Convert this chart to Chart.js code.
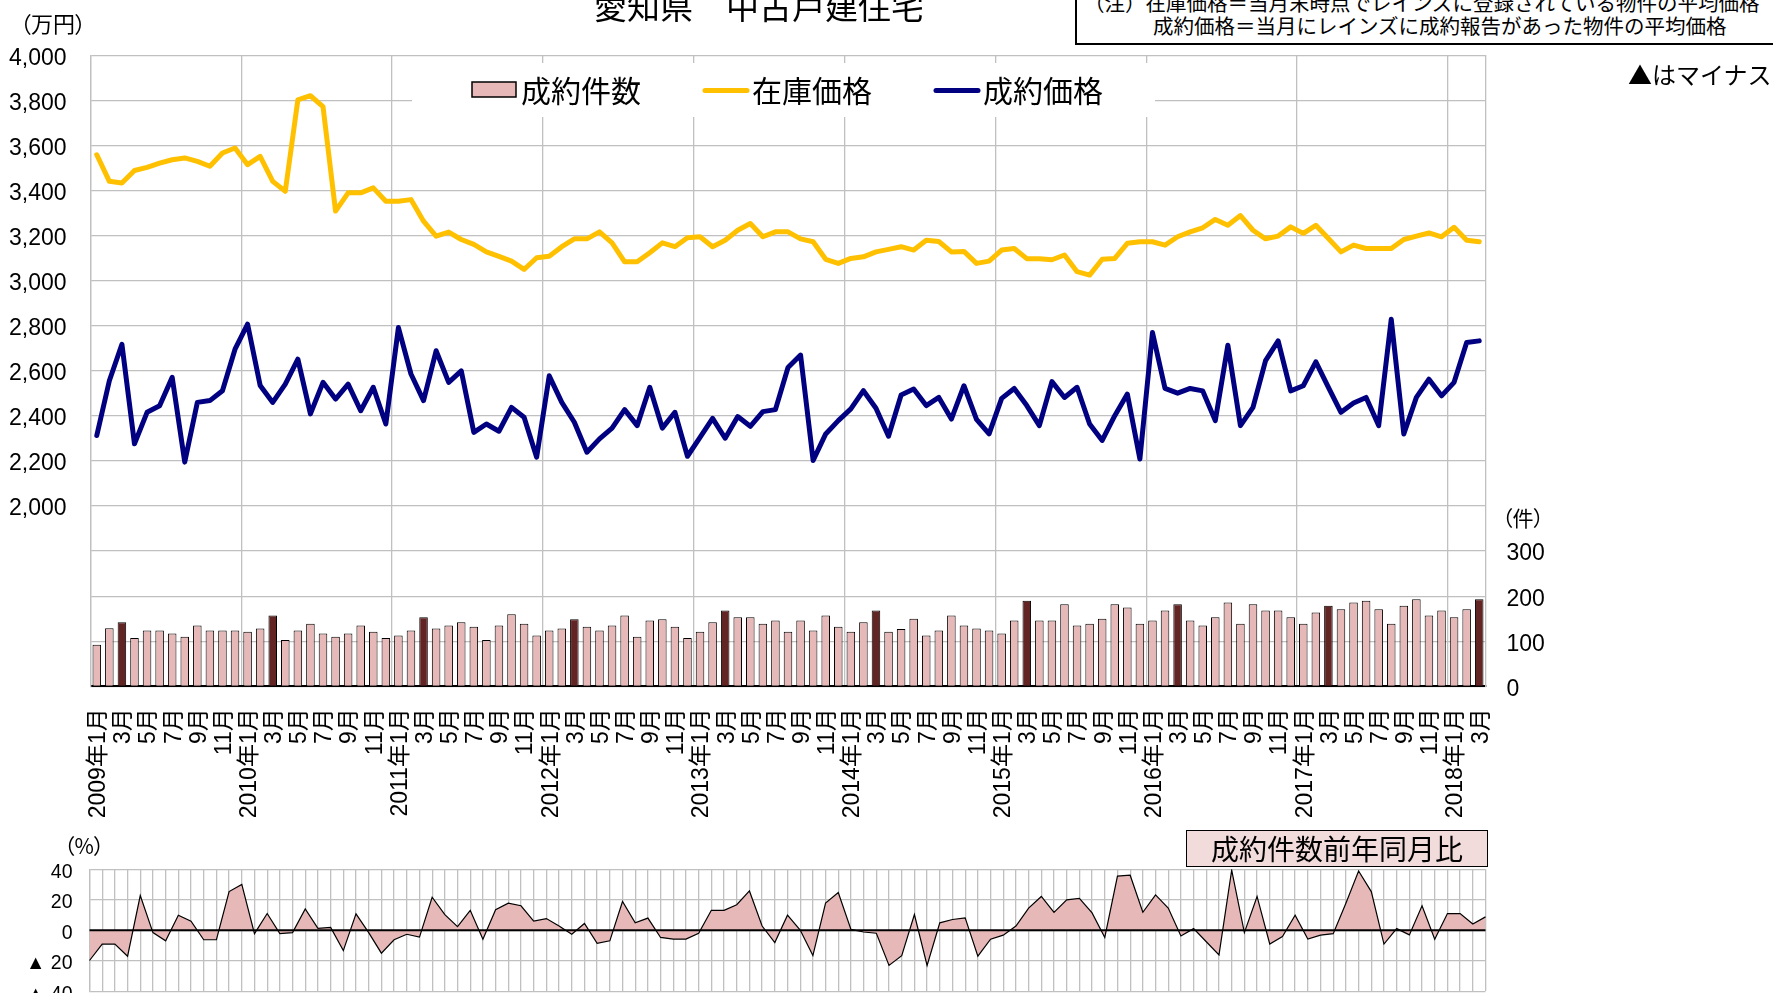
<!DOCTYPE html>
<html lang="ja">
<head>
<meta charset="utf-8">
<script src="https://cdn.jsdelivr.net/npm/chart.js@4.4.1/dist/chart.umd.min.js"></script>
<style>
  html, body { margin: 0; padding: 0; background: #fff; overflow: hidden; }
  body { width: 1773px; height: 993px; position: relative; font-family: "Noto Sans CJK JP", sans-serif; color: #000; }
  canvas { position: absolute; left: 0; }
  .txt { position: absolute; white-space: nowrap; line-height: 1; }
  .palt { font-feature-settings: "palt"; }
  #note { position: absolute; left: 1075px; top: -40px; width: 760px; height: 85px; border: 2px solid #000; box-sizing: border-box; background: #fff; }
  #yoyTitle { position: absolute; left: 1186px; top: 830px; width: 302px; height: 37px; box-sizing: border-box;
              border: 1.5px solid #000; background: #F2DCDB; font-size: 28px; line-height: 34px; text-align: center; }
</style>
</head>
<body>
<canvas id="topChart" width="1773" height="840" style="top:0"></canvas>
<canvas id="botChart" width="1773" height="220" style="top:800px"></canvas>

<div class="txt" style="left:594px; top:-11px; font-size:33px;">愛知県　中古戸建住宅</div>
<div class="txt palt" style="left:20px; top:11px; font-size:22px;">（万円）</div>
<div id="note"></div>
<div class="txt" style="left:1084px; top:-8px; font-size:20.5px;">（注）在庫価格＝当月末時点でレインズに登録されている物件の平均価格</div>
<div class="txt" style="left:1153px; top:15px; font-size:20.5px;">成約価格＝当月にレインズに成約報告があった物件の平均価格</div>
<div class="txt" style="left:1628px; top:62px; font-size:24px;">▲はマイナス</div>
<div class="txt palt" style="left:1502px; top:507px; font-size:21px;">（件）</div>
<div class="txt palt" style="left:64px; top:835px; font-size:21px;">（%）</div>
<div id="yoyTitle">成約件数前年同月比</div>

<script>
// 2009年1月 ～ 2018年3月
const years = [2009, 2010, 2011, 2012, 2013, 2014, 2015, 2016, 2017, 2018];
const lastMonthOfLastYear = 3;

// 成約件数（件）
const contracts = [
  92, 129, 142, 107, 124, 124, 117, 110, 135, 124, 124, 124,
  121, 128, 157, 103, 124, 139, 117, 110, 117, 135, 121, 107,
  113, 124, 153, 128, 135, 142, 132, 103, 135, 160, 139, 113,
  124, 128, 149, 132, 124, 135, 157, 110, 146, 149, 132, 107,
  121, 142, 168, 153, 153, 139, 146, 121, 146, 124, 157, 132,
  121, 142, 168, 121, 127, 150, 113, 124, 157, 135, 128, 124,
  117, 146, 190, 146, 146, 182, 135, 139, 150, 182, 175, 139,
  146, 168, 182, 146, 135, 153, 186, 139, 182, 168, 168, 153,
  139, 164, 179, 171, 186, 190, 171, 139, 179, 193, 157, 168,
  153, 171, 193
];

// 在庫価格（万円）
const stockPrice = [
  3559, 3441, 3434, 3489, 3503, 3522, 3537, 3545, 3530, 3508, 3567, 3589,
  3515, 3552, 3441, 3397, 3803, 3821, 3773, 3309, 3390, 3390, 3412, 3353,
  3353, 3360, 3264, 3198, 3216, 3183, 3161, 3128, 3108, 3087, 3050, 3102,
  3109, 3151, 3186, 3186, 3217, 3168, 3084, 3084, 3124, 3168, 3151, 3191,
  3195, 3151, 3180, 3224, 3254, 3195, 3217, 3217, 3186, 3173, 3095, 3077,
  3099, 3106, 3128, 3139, 3151, 3136, 3180, 3174, 3128, 3130, 3077, 3087,
  3136, 3143, 3098, 3098, 3093, 3114, 3040, 3025, 3095, 3099, 3166, 3173,
  3173, 3158, 3195, 3217, 3235, 3272, 3246, 3289, 3224, 3186, 3198, 3239,
  3210, 3246, 3187, 3128, 3158, 3143, 3143, 3143, 3183, 3198, 3212, 3195,
  3237, 3180, 3173
];

// 成約価格（万円）
const contractPrice = [
  2313, 2556, 2718, 2276, 2416, 2445, 2571, 2195, 2460, 2468, 2512, 2696,
  2807, 2535, 2460, 2541, 2652, 2409, 2549, 2475, 2541, 2423, 2527, 2364,
  2792, 2586, 2468, 2689, 2549, 2600, 2327, 2364, 2332, 2438, 2394, 2217,
  2578, 2460, 2372, 2239, 2298, 2346, 2428, 2357, 2527, 2346, 2416, 2221,
  2305, 2389, 2301, 2397, 2354, 2419, 2428, 2615, 2670, 2202, 2320, 2379,
  2431, 2512, 2434, 2310, 2493, 2519, 2446, 2482, 2386, 2534, 2385, 2320,
  2478, 2522, 2446, 2357, 2552, 2482, 2527, 2364, 2291, 2401, 2497, 2209,
  2770, 2522, 2501, 2522, 2511, 2379, 2714, 2357, 2438, 2645, 2733, 2511,
  2534, 2640, 2527, 2416, 2457, 2482, 2357, 2829, 2320, 2482, 2563, 2489,
  2549, 2726, 2733
];

// 成約件数前年同月比（%）
const yoy = [
  -19.8, -9.0, -9.0, -17.0, 22.8, -1.5, -6.9, 9.9, 6.0, -6.2, -6.2, 25.4,
  30.1, -2.2, 11.0, -2.2, -1.5, 14.0, 1.3, 1.9, -13.3, 10.8, -1.5, -15.0,
  -6.2, -2.6, -4.5, 21.7, 10.3, 2.4, 13.1, -5.8, 13.5, 17.8, 16.1, 6.0,
  7.7, 2.8, -2.6, 4.5, -8.6, -6.9, 18.9, 4.9, 8.0, -4.7, -5.8, -5.8,
  -1.9, 13.1, 13.1, 16.8, 25.8, 2.8, -8.0, 9.9, 0.2, -16.6, 17.8, 24.7,
  0.6, -1.1, -1.9, -23.0, -16.6, 10.3, -23.0, 4.9, 7.1, 8.2, -17.0, -5.8,
  -3.2, 2.8, 14.6, 22.2, 11.8, 20.0, 20.9, 11.4, -4.7, 35.5, 36.1, 11.8,
  23.2, 14.6, -3.7, 1.1, -7.5, -16.1, 39.4, -1.5, 22.2, -9.0, -4.1, 9.9,
  -5.8, -3.2, -2.2, 17.8, 38.9, 25.4, -9.0, 1.1, -3.0, 16.1, -5.8, 11.0,
  11.0, 4.1, 8.8
];

const categories = [];
const monthNo = [];
years.forEach((y, yi) => {
  const last = yi === years.length - 1 ? lastMonthOfLastYear : 12;
  for (let m = 1; m <= last; m++) {
    categories.push(m === 1 ? y + '年' + m + '月' : m + '月');
    monthNo.push(m);
  }
});

const PINK = '#E6B9B8';
const DARK = '#632523';
const GRID = '#c0c0c0';
const SANS = '"Liberation Sans", Arial, "Noto Sans CJK JP", sans-serif';

Chart.defaults.color = '#000';

// 凡例（プロットエリア内、白背景）
const boxLegend = {
  id: 'boxLegend',
  beforeDatasetsDraw(chart) {
    const c = chart.ctx;
    const items = [
      { ds: chart.data.datasets[2], x: 472 },
      { ds: chart.data.datasets[1], x: 703 },
      { ds: chart.data.datasets[0], x: 934 }
    ];
    c.save();
    c.fillStyle = '#fff';
    c.fillRect(412, 63, 743, 54);
    c.font = '30px "Noto Sans CJK JP"';
    c.textBaseline = 'middle';
    items.forEach(it => {
      if (it.ds.type === 'bar') {
        c.fillStyle = PINK;
        c.fillRect(it.x, 82, 44, 15);
        c.strokeStyle = '#000';
        c.lineWidth = 1.5;
        c.strokeRect(it.x, 82, 44, 15);
      } else {
        c.strokeStyle = it.ds.borderColor;
        c.lineWidth = 5;
        c.lineCap = 'round';
        c.beginPath();
        c.moveTo(it.x + 2, 90.5);
        c.lineTo(it.x + 44, 90.5);
        c.stroke();
      }
      c.fillStyle = '#000';
      c.fillText(it.ds.label, it.x + 49, 91);
    });
    c.restore();
  }
};

new Chart(document.getElementById('topChart'), {
  data: {
    labels: categories,
    datasets: [
      { type: 'line', label: '成約価格', data: contractPrice, yAxisID: 'yPrice', order: 1,
        borderColor: '#000080', borderWidth: 5, pointRadius: 0, tension: 0,
        borderJoinStyle: 'round', borderCapStyle: 'round' },
      { type: 'line', label: '在庫価格', data: stockPrice, yAxisID: 'yPrice', order: 2,
        borderColor: '#FFC000', borderWidth: 5, pointRadius: 0, tension: 0,
        borderJoinStyle: 'round', borderCapStyle: 'round' },
      { type: 'bar', label: '成約件数', data: contracts, yAxisID: 'yCount', order: 3,
        backgroundColor: ctx => monthNo[ctx.dataIndex] === 3 ? DARK : PINK,
        borderColor: '#000', borderWidth: 1, barPercentage: 0.68, categoryPercentage: 1 }
    ]
  },
  options: {
    responsive: false,
    animation: false,
    layout: { padding: { top: 55.4, left: 0, right: 0, bottom: 0 } },
    plugins: { legend: { display: false }, tooltip: { enabled: false } },
    scales: {
      x: {
        offset: true,
        grid: {
          offset: true, drawTicks: false, lineWidth: 1.3,
          color: ctx => ctx.index % 12 === 0 ? GRID : 'rgba(0,0,0,0)'
        },
        border: { color: '#000', width: 2 },
        ticks: {
          autoSkip: false, maxRotation: 90, minRotation: 90, padding: 22, labelOffset: 2,
          font: { family: SANS, size: 23 },
          callback: function (v, i) { return i % 2 === 0 ? this.getLabelForValue(v) : ''; }
        },
        afterFit: s => { s.height = 153.7; }
      },
      yPrice: {
        position: 'left', min: 1200, max: 4000,
        ticks: {
          stepSize: 200, padding: 24, labelOffset: 3, font: { family: SANS, size: 23 },
          callback: v => v >= 2000 ? v.toLocaleString('en-US') : ''
        },
        grid: { color: GRID, lineWidth: 1.3, drawTicks: false },
        border: { color: GRID, width: 1.3 },
        afterFit: s => { s.width = 90.5; }
      },
      yCount: {
        position: 'right', min: 0, max: 1400,
        ticks: {
          stepSize: 100, padding: 21, labelOffset: 3, font: { family: SANS, size: 23 },
          callback: v => v <= 300 ? String(v) : ''
        },
        grid: { drawOnChartArea: false, drawTicks: false },
        border: { color: GRID, width: 1.3 },
        afterFit: s => { s.width = 287.5; }
      }
    }
  },
  plugins: [boxLegend]
});

// 0 の基準線（塗りの上に描く）
const zeroLine = {
  id: 'zeroLine',
  afterDatasetsDraw(chart) {
    const c = chart.ctx;
    const y = chart.scales.y.getPixelForValue(0);
    c.save();
    c.strokeStyle = '#000';
    c.lineWidth = 2;
    c.beginPath();
    c.moveTo(chart.chartArea.left, y);
    c.lineTo(chart.chartArea.right, y);
    c.stroke();
    c.restore();
  }
};

new Chart(document.getElementById('botChart'), {
  type: 'line',
  data: {
    labels: categories,
    datasets: [{
      label: '成約件数前年同月比', data: yoy, fill: 'origin',
      backgroundColor: PINK, borderColor: '#000', borderWidth: 1.2,
      pointRadius: 0, tension: 0
    }]
  },
  options: {
    responsive: false,
    animation: false,
    layout: { padding: { top: 69.3, left: 0, right: 287.5, bottom: 0 } },
    plugins: { legend: { display: false }, tooltip: { enabled: false } },
    scales: {
      x: {
        offset: false,
        grid: { color: GRID, lineWidth: 1.3, drawTicks: false },
        border: { display: false },
        ticks: { display: false },
        afterFit: s => { s.height = 26.7; }
      },
      y: {
        min: -40, max: 40,
        ticks: {
          stepSize: 20, padding: 17, labelOffset: 3, font: { family: SANS, size: 19.5 },
          callback: v => v < 0 ? '▲ ' + (-v) : String(v)
        },
        grid: { color: GRID, lineWidth: 1.3, drawTicks: false },
        border: { color: GRID, width: 1.3 },
        afterFit: s => { s.width = 89.5; }
      }
    }
  },
  plugins: [zeroLine]
});
</script>
</body>
</html>
